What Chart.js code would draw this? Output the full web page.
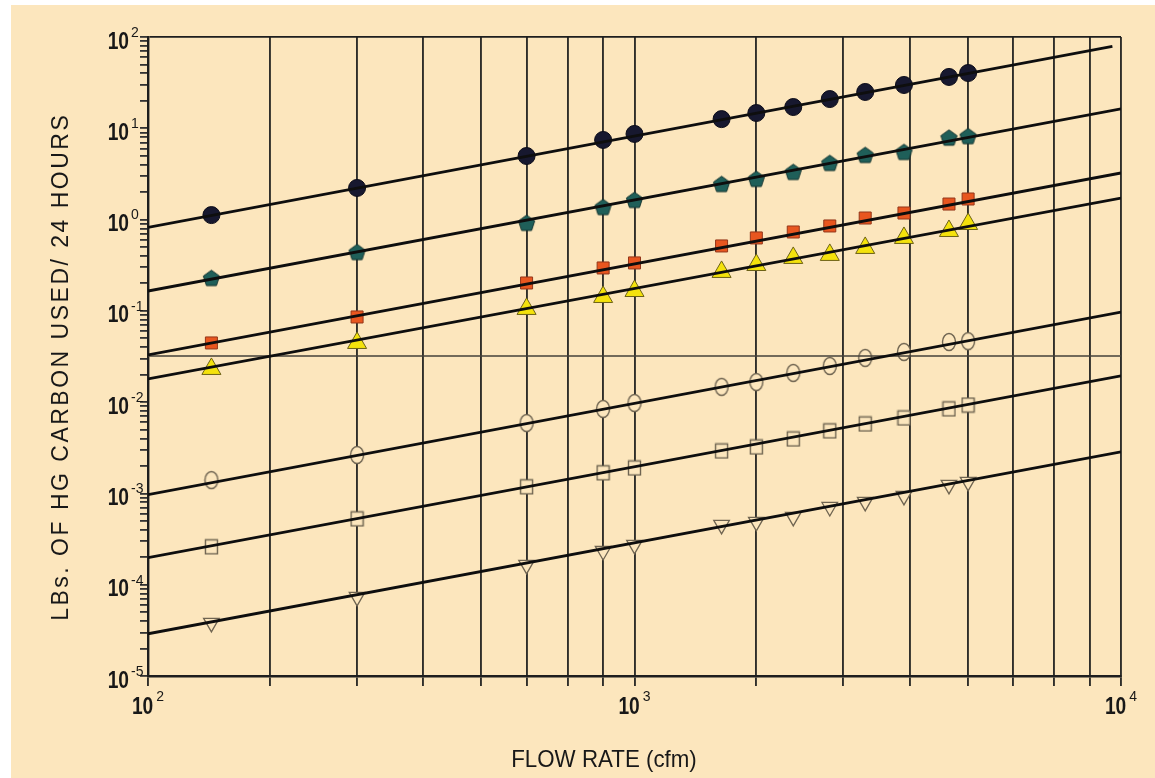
<!DOCTYPE html>
<html>
<head>
<meta charset="utf-8">
<script src="https://cdn.jsdelivr.net/npm/chart.js@4.4.1/dist/chart.umd.min.js"></script>
<style>
  html, body { margin: 0; padding: 0; background: #ffffff; }
  #wrap { position: absolute; left: 11px; top: 5px; width: 1144px; height: 773px; background: #fce6bd; }
</style>
</head>
<body>
<div id="wrap"><canvas id="chart"></canvas></div>
<script>
// Flow rate columns (cfm) where the measured points sit
const flowRates = [135, 269, 600, 862, 1000, 1510, 1780, 2120, 2520, 2980, 3580, 4430, 4850];

// LBs of Hg carbon used / 24 hours, one array per marker type
const filledCircles = [1.12, 2.22, 4.97, 7.45, 8.67, 12.6, 14.7, 17.1, 20.9, 25.0, 29.8, 36.5, 40.3];
const pentagons     = [0.229, 0.44, 0.92, 1.37, 1.64, 2.45, 2.79, 3.32, 4.17, 5.10, 5.50, 7.9, 8.2];
const redSquares    = [0.0445, 0.0857, 0.202, 0.295, 0.335, 0.514, 0.629, 0.731, 0.851, 1.04, 1.18, 1.48, 1.68];
const yellowTris    = [0.0231, 0.0445, 0.105, 0.142, 0.165, 0.267, 0.318, 0.38, 0.41, 0.489, 0.629, 0.75, 0.895];
const openCircles   = [0.0014, 0.00264, 0.0059, 0.00843, 0.0098, 0.0147, 0.0166, 0.0209, 0.0249, 0.0305, 0.0355, 0.0456, 0.0466];
const openSquares   = [0.00026, 0.000526, 0.00118, 0.00168, 0.0019, 0.00292, 0.00323, 0.00395, 0.00484, 0.00577, 0.00671, 0.00843, 0.0093];
const openTris      = [0.0000382, 0.0000735, 0.000165, 0.000234, 0.000273, 0.000452, 0.000488, 0.000553, 0.000711, 0.000807, 0.00094, 0.00124, 0.00134];

// Fitted lines: [x, y] at both ends
const fitA = [[100, 0.82], [9600, 79]];
const fitB = [[100, 0.165], [10000, 16.3]];
const fitC = [[100, 0.033], [10000, 3.24]];
const fitD = [[100, 0.018], [10000, 1.72]];
const fitE = [[100, 0.00097], [10000, 0.097]];
const fitF = [[100, 0.000198], [10000, 0.0194]];
const fitG = [[100, 0.000029], [10000, 0.00285]];

// Horizontal reference line
const refLevel = 0.032;

// Vertical grid lines as printed on the sheet
const xGridValues = [100, 178, 269, 368, 484, 600, 730, 862, 1000, 1780, 2680, 3690, 4850, 6000, 7280, 8640, 10000];
const xLabelValues = [100, 1000, 10000];
const yDecades = [-5, -4, -3, -2, -1, 0, 1, 2];

const textColor = '#181818';
const fontFamily = '"Liberation Sans", Arial, Helvetica, sans-serif';
const paper = '#fce6bd';

const pts = (ys) => flowRates.map((x, i) => ({ x: x, y: ys[i] }));
const seg = (ends) => ends.map(p => ({ x: p[0], y: p[1] }));

// small canvases for marker shapes chart.js lacks
const makeMarker = (w, h, draw) => {
    const c = document.createElement('canvas');
    c.width = w;
    c.height = h;
    draw(c.getContext('2d'), w, h);
    return c;
};

const pentagonImg = makeMarker(19, 19, (g, w, h) => {
    g.beginPath();
    for (let k = 0; k < 5; k++) {
        const a = -Math.PI / 2 + k * 2 * Math.PI / 5;
        const px = w / 2 + Math.cos(a) * 8.5;
        const py = h / 2 + 0.7 + Math.sin(a) * 8.5;
        if (k === 0) g.moveTo(px, py); else g.lineTo(px, py);
    }
    g.closePath();
    g.fillStyle = '#1f5f59';
    g.fill();
    g.strokeStyle = '#12332f';
    g.lineWidth = 1;
    g.stroke();
});

const ellipseImg = makeMarker(16, 20, (g, w, h) => {
    g.beginPath();
    g.ellipse(w / 2, h / 2, 6.5, 8.5, 0, 0, Math.PI * 2);
    g.fillStyle = paper;
    g.fill();
    g.strokeStyle = '#6f6451';
    g.lineWidth = 1.4;
    g.stroke();
});

const openSquareImg = makeMarker(15, 17, (g, w, h) => {
    g.fillStyle = paper;
    g.fillRect(1, 1, w - 2, h - 2);
    g.strokeStyle = '#6f6451';
    g.lineWidth = 1.4;
    g.strokeRect(1.5, 1.5, w - 3, h - 3);
});

const markerSet = (label, ys, style) => Object.assign({
    label: label,
    data: pts(ys),
    showLine: false,
    order: 1,
}, style);

const lineSet = (label, ends, width, color) => ({
    label: label,
    data: seg(ends),
    showLine: true,
    borderColor: color,
    borderWidth: width,
    pointRadius: 0,
    fill: false,
    order: 0,
});

const datasets = [
    lineSet('fit A', fitA, 2.8, '#0e0e0e'),
    lineSet('fit B', fitB, 2.8, '#0e0e0e'),
    lineSet('fit C', fitC, 2.8, '#0e0e0e'),
    lineSet('fit D', fitD, 2.8, '#0e0e0e'),
    lineSet('fit E', fitE, 2.8, '#0e0e0e'),
    lineSet('fit F', fitF, 2.8, '#0e0e0e'),
    lineSet('fit G', fitG, 2.8, '#0e0e0e'),
    lineSet('reference', [[100, refLevel], [10000, refLevel]], 1.4, '#44413a'),
    markerSet('filled circles', filledCircles, {
        pointStyle: 'circle', pointRadius: 8.5, backgroundColor: '#17182f', borderColor: '#0b0b18', borderWidth: 1,
    }),
    markerSet('pentagons', pentagons, { pointStyle: pentagonImg }),
    markerSet('red squares', redSquares, {
        pointStyle: 'rect', pointRadius: 8.5, backgroundColor: '#e8561f', borderColor: '#93361a', borderWidth: 1,
    }),
    markerSet('yellow triangles', yellowTris, {
        pointStyle: 'triangle', pointRadius: 11, backgroundColor: '#f4e20c', borderColor: '#6c6116', borderWidth: 1,
    }),
    markerSet('open circles', openCircles, { pointStyle: ellipseImg }),
    markerSet('open squares', openSquares, { pointStyle: openSquareImg }),
    markerSet('open triangles', openTris, {
        pointStyle: 'triangle', rotation: 180, pointRadius: 9, backgroundColor: paper, borderColor: '#6f6451', borderWidth: 1.3,
    }),
];

// draw text with extra spacing between characters, centred on (cx, cy)
const drawSpaced = (ctx, text, cx, cy, spacing) => {
    const chars = Array.from(text);
    const widths = chars.map(ch => ctx.measureText(ch).width);
    const total = widths.reduce((s, w) => s + w, 0) + spacing * (chars.length - 1);
    let x = cx - total / 2;
    ctx.textAlign = 'left';
    chars.forEach((ch, i) => {
        ctx.fillText(ch, x, cy);
        x += widths[i] + spacing;
    });
};

// power-of-ten labels and axis titles
const labelPlugin = {
    id: 'powerLabels',
    afterDraw(chart) {
        const ctx = chart.ctx;
        const xs = chart.scales.x;
        const ys = chart.scales.y;
        const squeeze = 0.8;
        const bigFont = 'bold 24px ' + fontFamily;
        const expFont = '14px ' + fontFamily;
        ctx.save();
        ctx.fillStyle = textColor;
        ctx.textBaseline = 'middle';

        // y axis labels
        yDecades.forEach(d => {
            const py = ys.getPixelForValue(Math.pow(10, d));
            ctx.font = bigFont;
            ctx.save();
            ctx.translate(118, py + 5);
            ctx.scale(squeeze, 1);
            ctx.textAlign = 'right';
            ctx.fillText('10', 0, 0);
            ctx.restore();
            ctx.font = expFont;
            ctx.textAlign = 'left';
            ctx.fillText(d < 0 ? '-' + Math.abs(d) : String(d), 120, py - 4);
        });

        // x axis labels
        xLabelValues.forEach(v => {
            const px = xs.getPixelForValue(v);
            const exp = String(Math.round(Math.log10(v)));
            ctx.font = bigFont;
            const w10 = ctx.measureText('10').width * squeeze;
            ctx.font = expFont;
            const wExp = ctx.measureText(exp).width;
            const left = px - (w10 + 3 + wExp) / 2;
            ctx.font = bigFont;
            ctx.save();
            ctx.translate(left, xs.top + 31);
            ctx.scale(squeeze, 1);
            ctx.textAlign = 'left';
            ctx.fillText('10', 0, 0);
            ctx.restore();
            ctx.font = expFont;
            ctx.textAlign = 'left';
            ctx.fillText(exp, left + w10 + 3, xs.top + 21);
        });

        // x title
        ctx.font = '24px ' + fontFamily;
        ctx.save();
        ctx.translate(593, 755);
        ctx.scale(0.93, 1);
        ctx.textAlign = 'center';
        ctx.fillText('FLOW RATE (cfm)', 0, 0);
        ctx.restore();

        // y title
        ctx.font = '23px ' + fontFamily;
        ctx.save();
        ctx.translate(51, 363);
        ctx.rotate(-Math.PI / 2);
        drawSpaced(ctx, 'LBs. OF HG CARBON USED/ 24 HOURS', 0, 0, 2.5);
        ctx.restore();

        ctx.restore();
    },
};

const yTickValues = [];
yDecades.forEach(d => {
    for (let m = 1; m <= 9; m++) {
        if (d === 2 && m > 1) break;
        yTickValues.push(m * Math.pow(10, d));
    }
});

new Chart(document.getElementById('chart'), {
    type: 'scatter',
    data: { datasets },
    options: {
        responsive: true,
        maintainAspectRatio: false,
        animation: false,
        layout: { padding: { top: 32, right: 34, left: 0, bottom: 0 } },
        plugins: {
            legend: { display: false },
            tooltip: { enabled: false },
        },
        scales: {
            x: {
                type: 'logarithmic',
                min: 100,
                max: 10000,
                afterBuildTicks: (s) => { s.ticks = xGridValues.map(v => ({ value: v })); },
                afterFit: (s) => { s.height = 102; },
                ticks: { display: false },
                grid: { color: '#2f2e2a', lineWidth: 1.9, tickLength: 10, drawTicks: true },
                border: { color: '#1e1e1e', width: 2.4 },
            },
            y: {
                type: 'logarithmic',
                min: 0.00001,
                max: 100,
                afterBuildTicks: (s) => { s.ticks = yTickValues.map(v => ({ value: v })); },
                afterFit: (s) => { s.width = 137; },
                ticks: { display: false },
                grid: {
                    color: (c) => (c.tick && c.tick.value === 100 ? '#1e1e1e' : 'rgba(0,0,0,0)'),
                    tickColor: '#333333',
                    lineWidth: 1.8,
                    tickLength: 8,
                    drawTicks: true,
                },
                border: { color: '#1e1e1e', width: 2.4 },
            },
        },
    },
    plugins: [labelPlugin],
});
</script>
</body>
</html>
